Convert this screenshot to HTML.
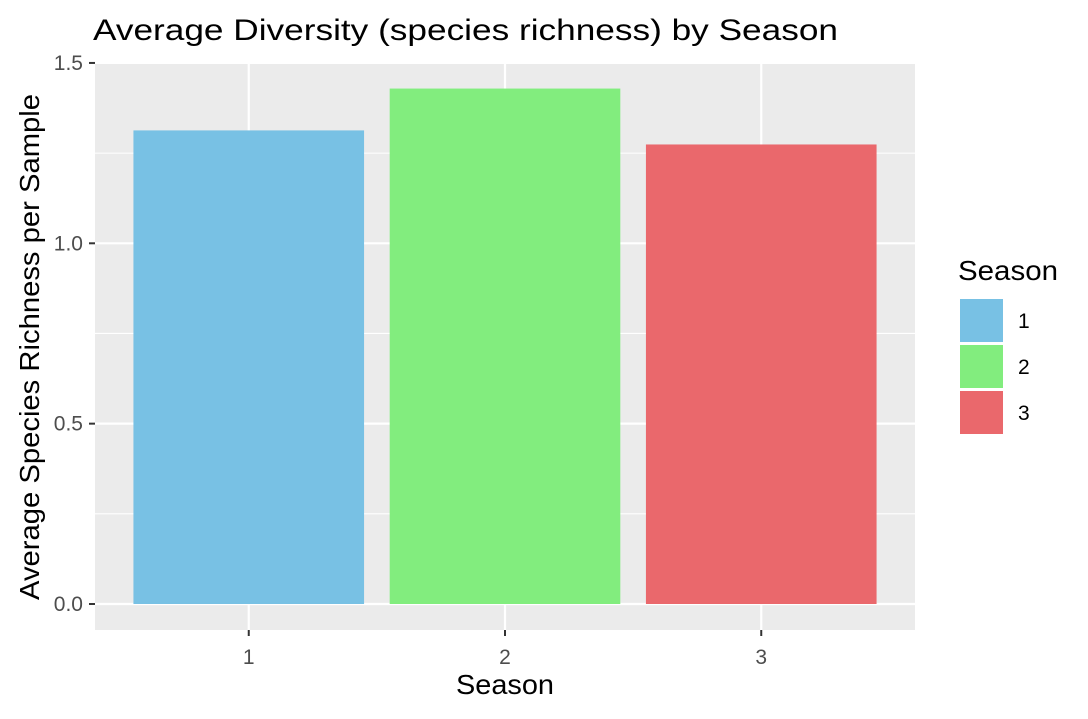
<!DOCTYPE html>
<html><head><meta charset="utf-8"><style>
body{margin:0;background:#fff;}
svg text{font-family:"Liberation Sans",Arial,sans-serif;}
</style></head><body>
<svg id="chart" width="1088" height="714" xmlns="http://www.w3.org/2000/svg">
<text x="93" y="40" font-size="30" textLength="745" lengthAdjust="spacingAndGlyphs" fill="#000">Average Diversity (species richness) by Season</text>
<rect x="95" y="62" width="820" height="568" fill="#ebebeb"/>
<g id="grid"></g>
<g id="bars"></g>
<g id="axes"></g>
<text x="505" y="694" font-size="28" textLength="98" lengthAdjust="spacingAndGlyphs" text-anchor="middle" fill="#000">Season</text>
<text transform="translate(39,347) rotate(-90)" font-size="28" textLength="506" lengthAdjust="spacingAndGlyphs" text-anchor="middle" fill="#000">Average Species Richness per Sample</text>
<text x="958" y="280" font-size="28" textLength="100" lengthAdjust="spacingAndGlyphs" fill="#000">Season</text>
<g id="legend"></g>
</svg>
<script>
const categories = ["1","2","3"];
const values = [1.313, 1.429, 1.274];
const colors = ["#78c1e4","#82ed7e","#ea686c"];
const yTicks = [0, 0.5, 1.0, 1.5];
const yTickLabels = ["0.0","0.5","1.0","1.5"];
const NS="http://www.w3.org/2000/svg";
const x0=95, pw=820, py0=604, unit=360.7;
const step=pw/3.2;
function xs(i){return x0+(i+1-0.4)*step;}
function ys(v){return py0-v*unit;}
function mk(tag,attrs,parent){const e=document.createElementNS(NS,tag);for(const k in attrs)e.setAttribute(k,attrs[k]);parent.appendChild(e);return e;}
const grid=document.getElementById('grid'), bars=document.getElementById('bars'), axes=document.getElementById('axes'), legend=document.getElementById('legend');
for(let i=0;i<yTicks.length-1;i++){
  const y=ys((yTicks[i]+yTicks[i+1])/2);
  const l=mk('line',{x1:95,x2:915,y1:y,y2:y,stroke:'#fff','stroke-width':1.1},grid);
  
  
}
yTicks.forEach((t,i)=>{
  const y=ys(t);
  const l=mk('line',{x1:95,x2:915,y1:y,y2:y,stroke:'#fff','stroke-width':2.2},grid);
  
  
  const tk=mk('line',{x1:89,x2:95,y1:y,y2:y,stroke:'#333','stroke-width':2},axes);
  
  
  const tx=mk('text',{x:83,y:y+7,'font-size':21,'text-anchor':'end',fill:'#4d4d4d'},axes);
  tx.textContent=yTickLabels[i];
  
  
});
categories.forEach((c,i)=>{
  const cx=xs(i);
  const g=mk('line',{x1:cx,x2:cx,y1:62,y2:630,stroke:'#fff','stroke-width':2.2},grid);
  
  
  const w=step*0.9;
  const r=mk('rect',{x:cx-w/2,y:ys(values[i]),width:w,height:py0-ys(values[i]),fill:colors[i]},bars);
  
  
  const tk=mk('line',{x1:cx,x2:cx,y1:630,y2:636,stroke:'#333','stroke-width':2},axes);
  
  
  const tx=mk('text',{x:cx,y:664,'font-size':21,'text-anchor':'middle',fill:'#4d4d4d'},axes);
  tx.textContent=c;
  
  
  const ly=298+i*46;
  const lb=mk('rect',{x:959,y:ly,width:45,height:45,fill:colors[i],stroke:'#fff','stroke-width':2},legend);
  
  
  const lt=mk('text',{x:1018,y:ly+30,'font-size':21,fill:'#000'},legend);
  lt.textContent=c;
  
  
});
</script>
</body></html>
